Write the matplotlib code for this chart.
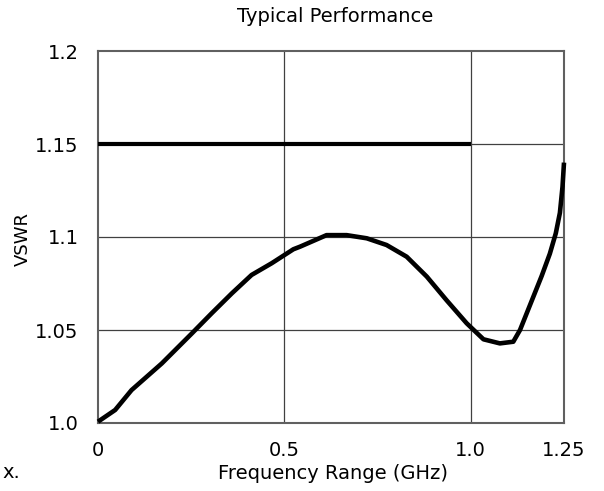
import matplotlib
matplotlib.use("Agg")
import matplotlib.pyplot as plt

freq = [0, 0.046, 0.09, 0.171, 0.251, 0.305, 0.359, 0.412, 0.466, 0.524,
        0.542, 0.613, 0.667, 0.721, 0.774, 0.828, 0.882, 0.935, 0.989,
        1.034, 1.078, 1.114, 1.132, 1.168, 1.19, 1.212, 1.228, 1.239, 1.246, 1.25]
vswr = [1.0007, 1.007, 1.0177, 1.032, 1.048, 1.059, 1.0697, 1.0796, 1.0859, 1.0934,
        1.0948, 1.101, 1.101, 1.0993, 1.0957, 1.0894, 1.0787, 1.066, 1.0536,
        1.045, 1.0428, 1.0437, 1.050, 1.068, 1.079, 1.091, 1.102, 1.113, 1.127, 1.140]

# spec limit line
spec_freq = [0, 1.0]
spec_vswr = [1.15, 1.15]

xticks = [0, 0.5, 1.0, 1.25]
xticklabels = ["0", "0.5", "1.0", "1.25"]
yticks = [1.0, 1.05, 1.1, 1.15, 1.2]
yticklabels = ["1.0", "1.05", "1.1", "1.15", "1.2"]

fig = plt.figure(figsize=(6.04, 4.91), dpi=100)
ax = fig.add_axes([98/604, 1 - 423/491, 466/604, 372/491])

frame_col = "#606060"
grid_col = "#404040"

# grid lines (only inner ones)
for gx in [0.5, 1.0]:
    ax.axvline(gx, color=grid_col, lw=0.9, zorder=1)
for gy in [1.05, 1.1, 1.15]:
    ax.axhline(gy, color=grid_col, lw=0.9, zorder=1)

ax.plot(spec_freq, spec_vswr, color="black", lw=3.0, solid_capstyle="butt", zorder=3)
ax.plot(freq, vswr, color="black", lw=3.3, solid_capstyle="butt",
        solid_joinstyle="round", zorder=4, clip_on=False)

ax.set_xlim(0, 1.25)
ax.set_ylim(1.0, 1.2)
ax.set_xticks(xticks)
ax.set_xticklabels(xticklabels)
ax.set_yticks(yticks)
ax.set_yticklabels(yticklabels)
ax.tick_params(axis="both", length=0, labelsize=14)
ax.tick_params(axis="x", pad=13)
ax.tick_params(axis="y", pad=14)

for s in ax.spines.values():
    s.set_color(frame_col)
    s.set_linewidth(1.5)

ax.set_title("Typical Performance", fontsize=14, pad=21)
ax.title.set_x((335 - 98) / 466)

ax.set_xlabel("Frequency Range (GHz)", fontsize=14)
ax.xaxis.set_label_coords((333 - 98) / 466, (423 - 464) / 372)
ax.set_ylabel("VSWR", fontsize=13)
ax.yaxis.set_label_coords((32 - 98) / 466, (423 - 239) / 372)

# leftover text cut off at the figure edge
fig.text(2 / 604, 1 - 472 / 491, "x.", fontsize=14, va="center", ha="left")

fig.savefig("out.png", dpi=100)
